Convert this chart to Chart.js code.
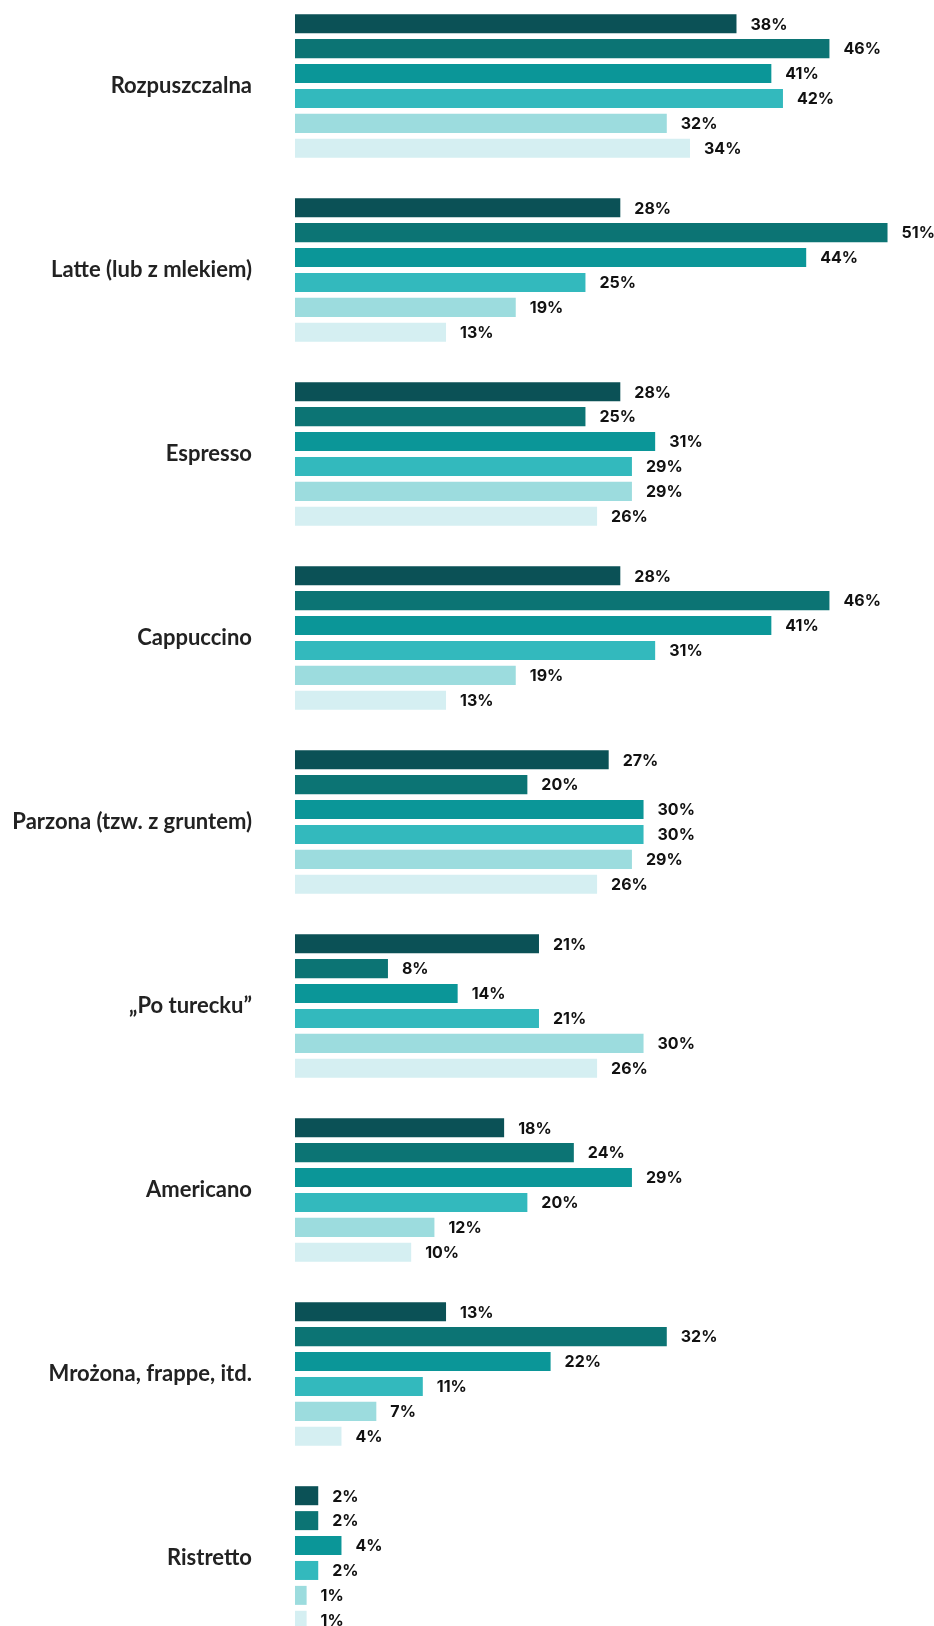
<!DOCTYPE html>
<html lang="pl">
<head>
<meta charset="utf-8">
<title>Rodzaje kawy</title>
<script src="https://cdn.jsdelivr.net/npm/chart.js@4/dist/chart.umd.min.js"></script>
<style>
    html, body { margin: 0; padding: 0; background: #fff; overflow: hidden; }
    #wrap { position: absolute; left: 0; top: -6px; width: 934px; height: 1656px; }
</style>
</head>
<body>
<div id="wrap"><canvas id="coffee-chart"></canvas></div>
<script>
// rodzaje kawy, wartości w %
const categories = [
    'Rozpuszczalna',
    'Latte (lub z mlekiem)',
    'Espresso',
    'Cappuccino',
    'Parzona (tzw. z gruntem)',
    '\u201EPo turecku\u201D',
    'Americano',
    'Mrożona, frappe, itd.',
    'Ristretto'
];

const series1 = [38, 28, 28, 28, 27, 21, 18, 13, 2];
const series2 = [46, 51, 25, 46, 20, 8, 24, 32, 2];
const series3 = [41, 44, 31, 41, 30, 14, 29, 22, 4];
const series4 = [42, 25, 29, 31, 30, 21, 20, 11, 2];
const series5 = [32, 19, 29, 19, 29, 30, 12, 7, 1];
const series6 = [34, 13, 26, 13, 26, 26, 10, 4, 1];

const seriesColors = ['#0b5156', '#0c7474', '#0b9698', '#33b9bd', '#9cdcde', '#d5eff2'];

// value labels at the end of each bar
const valueLabels = {
    id: 'valueLabels',
    afterDatasetsDraw(chart) {
        const ctx = chart.ctx;
        ctx.save();
        ctx.font = '700 16px Inter, "DejaVu Sans", sans-serif';
        ctx.fillStyle = '#111';
        ctx.textAlign = 'left';
        ctx.textBaseline = 'middle';
        chart.data.datasets.forEach((ds, i) => {
            const meta = chart.getDatasetMeta(i);
            meta.data.forEach((bar, j) => {
                ctx.fillText(ds.data[j] + '%', bar.x + 14, bar.y + 1);
            });
        });
        ctx.restore();
    }
};

const data = [series1, series2, series3, series4, series5, series6];

new Chart(document.getElementById('coffee-chart').getContext('2d'), {
    type: 'bar',
    data: {
        labels: categories,
        datasets: data.map((values, i) => ({
            label: 'Seria ' + (i + 1),
            data: values,
            backgroundColor: seriesColors[i],
            borderWidth: 0,
            categoryPercentage: 0.8125,
            barPercentage: 0.763
        }))
    },
    options: {
        indexAxis: 'y',
        responsive: true,
        maintainAspectRatio: false,
        animation: false,
        layout: { padding: 0 },
        plugins: {
            legend: { display: false },
            tooltip: { enabled: false }
        },
        scales: {
            x: {
                display: false,
                min: 0,
                max: 55
            },
            y: {
                grid: { display: false },
                border: { display: false },
                ticks: {
                    padding: 35,
                    color: '#222',
                    font: { family: 'Lato', weight: 'bold', size: 22 }
                },
                afterFit(scale) {
                    // fixed axis width; drop the top/bottom padding the tick padding adds
                    scale.width = 295;
                    scale.paddingTop = 0;
                    scale.paddingBottom = 0;
                }
            }
        }
    },
    plugins: [valueLabels]
});
</script>
</body>
</html>
